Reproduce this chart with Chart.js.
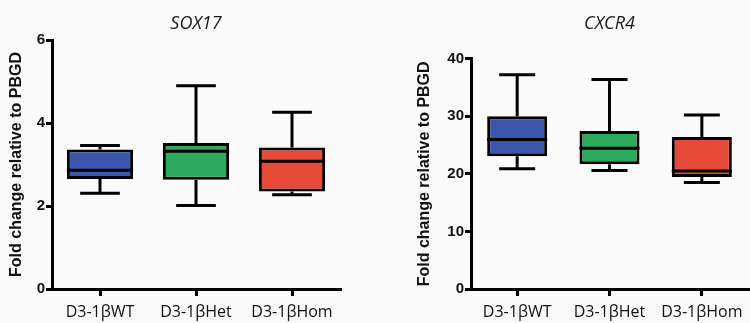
<!DOCTYPE html>
<html>
<head>
<meta charset="utf-8">
<script src="https://cdn.jsdelivr.net/npm/chart.js@4"></script>
<style>
  body { margin: 0; background: #fafafa; }
  #wrap { position: relative; width: 750px; height: 323px; }
  canvas { position: absolute; top: 0; }
  #sox17 { left: 0; }
  #cxcr4 { left: 375px; }
</style>
</head>
<body>
<div id="wrap">
  <canvas id="sox17" width="375" height="323"></canvas>
  <canvas id="cxcr4" width="375" height="323"></canvas>
</div>
<script>
var categories = ['D3-1βWT', 'D3-1βHet', 'D3-1βHom'];
var boxColors = ['#3b57ad', '#2daa5e', '#e84a3a'];

var sox17Min = [2.31, 2.01, 2.27];
var sox17Q1 = [2.65, 2.63, 2.35];
var sox17Median = [2.86, 3.32, 3.08];
var sox17Q3 = [3.36, 3.52, 3.41];
var sox17Max = [3.46, 4.90, 4.26];
var sox17Ticks = [0, 2, 4, 6];

var cxcr4Min = [20.9, 20.6, 18.5];
var cxcr4Q1 = [23.05, 21.65, 19.45];
var cxcr4Median = [25.95, 24.44, 20.5];
var cxcr4Q3 = [30.0, 27.46, 26.4];
var cxcr4Max = [37.2, 36.4, 30.2];
var cxcr4Ticks = [0, 10, 20, 30, 40];

// whiskers and median line, drawn from the y scale
var boxPlotExtras = {
    id: 'boxPlotExtras',
    afterDatasetsDraw: function(chart, args, opts) {
        var ctx = chart.ctx;
        var y = chart.scales.y;
        var bars = chart.getDatasetMeta(0).data;
        ctx.save();
        ctx.strokeStyle = '#000';
        ctx.lineWidth = 3;
        ctx.lineCap = 'butt';
        bars.forEach(function(bar, i) {
            var cap = bar.width * 0.6;
            var yMin = y.getPixelForValue(opts.min[i]);
            var yQ1 = y.getPixelForValue(opts.q1[i]);
            var yQ3 = y.getPixelForValue(opts.q3[i]);
            var yMax = y.getPixelForValue(opts.max[i]);
            var yMed = y.getPixelForValue(opts.median[i]);
            ctx.beginPath();
            ctx.moveTo(bar.x, yQ3); ctx.lineTo(bar.x, yMax);
            ctx.moveTo(bar.x - cap / 2, yMax); ctx.lineTo(bar.x + cap / 2, yMax);
            ctx.moveTo(bar.x, yQ1); ctx.lineTo(bar.x, yMin);
            ctx.moveTo(bar.x - cap / 2, yMin); ctx.lineTo(bar.x + cap / 2, yMin);
            ctx.moveTo(bar.x - bar.width / 2, yMed); ctx.lineTo(bar.x + bar.width / 2, yMed);
            ctx.stroke();
        });
        ctx.restore();
    }
};

function makeBoxChart(id, title, mins, q1s, medians, q3s, maxs, tickValues, yWidth, titleBottom, barPct, titlePad, rightPad) {
    var ctx = document.getElementById(id).getContext('2d');
    return new Chart(ctx, {
        type: 'bar',
        data: {
            labels: categories,
            datasets: [{
                data: q1s.map(function(v, i) { return [v, q3s[i]]; }),
                backgroundColor: boxColors,
                borderColor: '#000',
                borderWidth: 3,
                borderSkipped: false,
                categoryPercentage: 1,
                barPercentage: barPct
            }]
        },
        options: {
            responsive: false,
            animation: false,
            layout: { padding: { left: 0, right: rightPad, top: 0, bottom: 0 } },
            plugins: {
                legend: { display: false },
                tooltip: { enabled: false },
                title: {
                    display: true,
                    text: title,
                    fullSize: false,
                    color: '#1a1a1a',
                    font: { family: 'Open Sans', size: 18, style: 'italic', weight: 'normal' },
                    padding: { top: 13, bottom: titleBottom }
                },
                boxPlotExtras: { min: mins, q1: q1s, median: medians, q3: q3s, max: maxs }
            },
            scales: {
                x: {
                    offset: true,
                    grid: { drawOnChartArea: false, offset: false, color: '#000', lineWidth: 3, tickLength: 7 },
                    border: { color: '#000', width: 3 },
                    ticks: { color: '#111', padding: 7, font: { family: 'Open Sans', size: 16 } },
                    afterFit: function(scale) { scale.height = 34; }
                },
                y: {
                    min: tickValues[0],
                    max: tickValues[tickValues.length - 1],
                    afterBuildTicks: function(axis) {
                        axis.ticks = tickValues.map(function(v) { return { value: v }; });
                    },
                    grid: { drawOnChartArea: false, color: '#000', lineWidth: 3, tickLength: 6 },
                    border: { color: '#000', width: 3 },
                    ticks: { color: '#111', padding: 1, font: { family: 'Liberation Sans', size: 15, weight: 'bold' } },
                    title: {
                        display: true,
                        text: 'Fold change relative to PBGD',
                        color: '#111',
                        font: { family: 'Liberation Sans', size: 16, weight: 'bold' },
                        padding: { top: titlePad, bottom: 0 }
                    },
                    afterFit: function(scale) { scale.width = yWidth; }
                }
            }
        },
        plugins: [boxPlotExtras]
    });
}

makeBoxChart('sox17', 'SOX17', sox17Min, sox17Q1, sox17Median, sox17Q3, sox17Max, sox17Ticks, 52, 5.4, 0.69, 7, 35);
makeBoxChart('cxcr4', 'CXCR4', cxcr4Min, cxcr4Q1, cxcr4Median, cxcr4Q3, cxcr4Max, cxcr4Ticks, 96, 24.1, 0.65, 40, 2);
</script>
</body>
</html>
